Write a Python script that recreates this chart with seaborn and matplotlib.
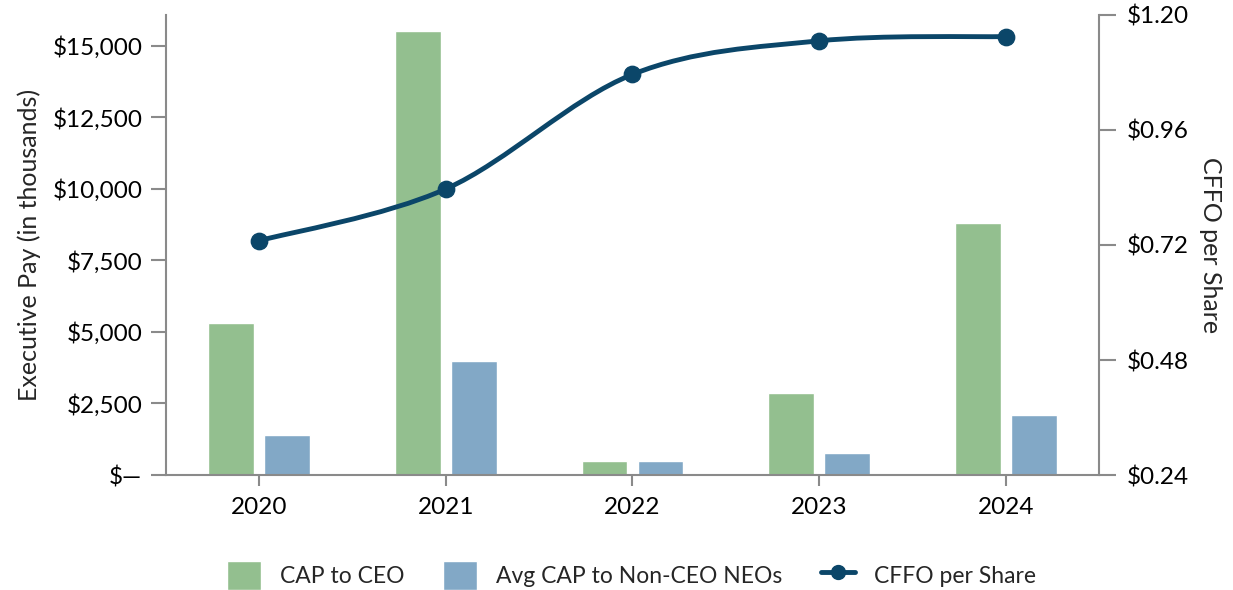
import numpy as np
import pandas as pd
import matplotlib
matplotlib.use("Agg")
import matplotlib.pyplot as plt
from matplotlib.path import Path
from matplotlib.patches import PathPatch, Patch
from matplotlib.lines import Line2D
from matplotlib.ticker import FuncFormatter
import seaborn as sns

# data
years = ["2020", "2021", "2022", "2023", "2024"]
cap_ceo = [5315, 15520, 490, 2876, 8805]
cap_neo = [1400, 3990, 490, 779, 2107]
cffo = [0.729, 0.837, 1.076, 1.146, 1.155]
left_ticks = [0, 2500, 5000, 7500, 10000, 12500, 15000]
right_ticks = [0.24, 0.48, 0.72, 0.96, 1.20]

green = "#93BF8F"
blue = "#82A8C6"
navy = "#0B4669"
grey = "#8A8A8A"

sns.set_style("ticks")
plt.rcParams["font.family"] = ["Lato", "DejaVu Sans"]

df = pd.DataFrame({
    "year": years * 2,
    "value": cap_ceo + cap_neo,
    "series": ["CAP to CEO"] * 5 + ["Avg CAP to Non-CEO NEOs"] * 5,
})

fig = plt.figure(figsize=(12.33, 5.9), dpi=100)
ax = fig.add_axes([0.1346, 0.1949, 0.8913 - 0.1346, 0.9746 - 0.1949])

sns.barplot(data=df, x="year", y="value", hue="series", palette=[green, blue],
            width=0.6, gap=0.18, ax=ax, legend=False, saturation=1)
ax.set_xlim(-0.5, 4.5)
ax.set_ylim(0, 16070)
ax.set_yticks(left_ticks)
ax.yaxis.set_major_formatter(FuncFormatter(lambda v, p: "$\u2014" if v == 0 else f"${v:,.0f}"))
ax.set_xlabel("")
ax.set_ylabel("Executive Pay (in thousands)", fontsize=18, labelpad=8)

ax2 = ax.twinx()
ax2.set_ylim(0.24, 1.20)
ax2.set_yticks(right_ticks)
ax2.yaxis.set_major_formatter(FuncFormatter(lambda v, p: f"${v:.2f}"))
ax2.set_ylabel("CFFO per Share", fontsize=18, rotation=270, labelpad=24)

# smoothed line (Catmull-Rom as cubic Bezier segments)
xs = np.arange(len(years), dtype=float)
pts = np.column_stack([xs, cffo])
ext = np.vstack([pts[0], pts, pts[-1]])
verts = [tuple(pts[0])]
codes = [Path.MOVETO]
for i in range(1, len(ext) - 2):
    p0, p1, p2, p3 = ext[i - 1], ext[i], ext[i + 1], ext[i + 2]
    c1 = p1 + (p2 - p0) / 6
    c2 = p2 - (p3 - p1) / 6
    verts += [tuple(c1), tuple(c2), tuple(p2)]
    codes += [Path.CURVE4] * 3
ax2.add_patch(PathPatch(Path(verts, codes), facecolor="none", edgecolor=navy,
                        lw=3.5, capstyle="round", zorder=3))
sns.scatterplot(x=xs, y=cffo, color=navy, s=140, edgecolor=navy, ax=ax2, zorder=4)

for a in (ax, ax2):
    a.spines["top"].set_visible(False)
    for s in a.spines.values():
        s.set_color(grey)
        s.set_linewidth(1.5)
    a.tick_params(colors=grey, width=1.5, labelcolor="black", labelsize=17.5)
ax.spines["right"].set_visible(False)
ax2.spines["left"].set_visible(False)
ax2.spines["bottom"].set_visible(False)
ax.tick_params(axis="y", length=11, pad=6)
ax.tick_params(axis="x", length=8, pad=8)
ax2.tick_params(axis="y", length=12, pad=8)

handles = [
    Patch(facecolor=green, label="CAP to CEO"),
    Patch(facecolor=blue, label="Avg CAP to Non-CEO NEOs"),
    Line2D([0], [0], color=navy, lw=3.5, marker="o", markersize=10, label="CFFO per Share"),
]
fig.legend(handles=handles, loc="center", bbox_to_anchor=(0.512, 0.025), ncol=3,
           frameon=False, fontsize=16.5, handlelength=1.5, handleheight=1.6,
           columnspacing=1.7, handletextpad=0.8)

fig.savefig("out.png", dpi=100)
